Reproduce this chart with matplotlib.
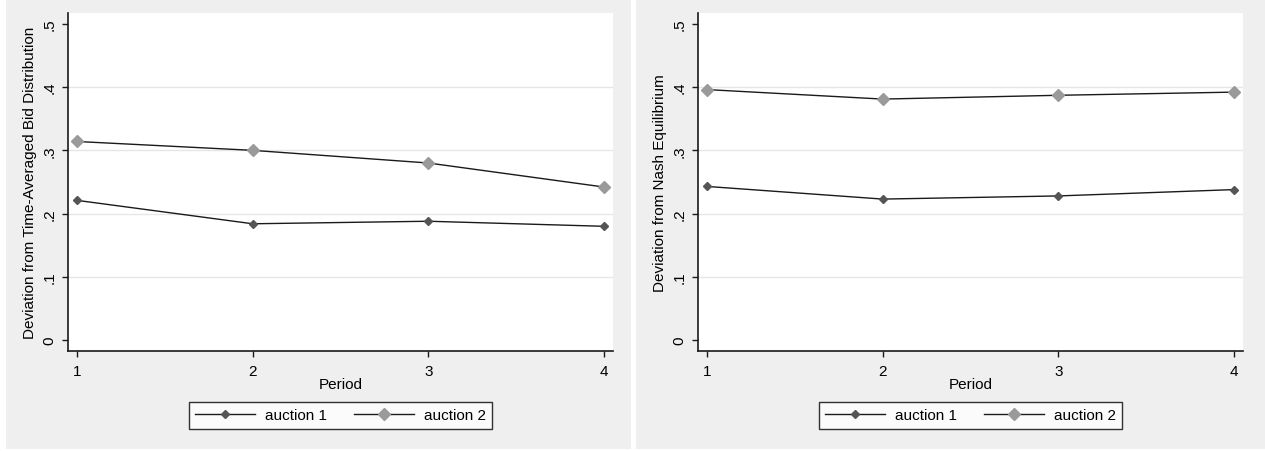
import matplotlib.pyplot as plt
from matplotlib.patches import Rectangle

plt.rcParams['font.family'] = ['Liberation Sans', 'DejaVu Sans']

# Mean deviation per period, two auction formats
periods = [1, 2, 3, 4]
yticks = [0, 0.1, 0.2, 0.3, 0.4, 0.5]
yticklabels = ['0', '.1', '.2', '.3', '.4', '.5']

tavg_auction1 = [0.221, 0.184, 0.188, 0.180]
tavg_auction2 = [0.314, 0.300, 0.280, 0.242]
nash_auction1 = [0.243, 0.223, 0.228, 0.238]
nash_auction2 = [0.396, 0.381, 0.387, 0.392]

W, H = 1265, 452
FS = 11
fig = plt.figure(figsize=(W / 100, H / 100), dpi=100)
fig.patch.set_facecolor('white')

# gray graph regions behind each panel
for x0, x1 in [(6, 631), (636, 1265)]:
    fig.patches.append(Rectangle((x0 / W, 2 / H), (x1 - x0) / W, (H - 2) / H,
                                 transform=fig.transFigure, facecolor='#efefef',
                                 edgecolor='none', zorder=-10))


def panel(left_px, ylabel, s1, s2):
    ax = fig.add_axes([left_px / W, 1 - 352 / H, 545 / W, 338 / H])
    ax.set_facecolor('white')
    ax.plot(periods, s1, color='#1a1a1a', lw=1.0, marker='D', ms=4.2,
            mfc='#555555', mec='#555555', label='auction 1', zorder=3)
    ax.plot(periods, s2, color='#1a1a1a', lw=1.0, marker='D', ms=6.6,
            mfc='#9a9a9a', mec='#9a9a9a', label='auction 2', zorder=3)
    ax.set_xlim(0.949, 4.05)
    ax.set_ylim(-0.017, 0.517)
    for g in [0.1, 0.2, 0.3, 0.4]:
        ax.axhline(g, color='#e6e6e6', lw=1.0, zorder=1)
    ax.set_xticks(periods)
    ax.set_yticks(yticks)
    ax.set_yticklabels(yticklabels, rotation=90, va='center')
    ax.tick_params(axis='both', labelsize=FS, color='#1a1a1a', length=4.5, width=1.0)
    ax.tick_params(axis='y', pad=4)
    ax.tick_params(axis='x', pad=5)
    for sp in ['top', 'right']:
        ax.spines[sp].set_visible(False)
    for sp in ['left', 'bottom']:
        ax.spines[sp].set_color('#1a1a1a')
        ax.spines[sp].set_linewidth(1.2)
    ax.set_xlabel('Period', fontsize=FS, labelpad=-1)
    ax.set_ylabel(ylabel, fontsize=FS, labelpad=4)
    leg = ax.legend(loc='center', bbox_to_anchor=((left_px + 272.5) / W, 1 - 416.5 / H),
                    bbox_transform=fig.transFigure, ncol=2, fontsize=FS,
                    frameon=True, fancybox=False, edgecolor='black',
                    handlelength=3.9, handletextpad=0.65, columnspacing=1.8,
                    borderpad=0.4, borderaxespad=0)
    leg.get_frame().set_linewidth(1.0)
    return ax


panel(68, 'Deviation from Time-Averaged Bid Distribution', tavg_auction1, tavg_auction2)
panel(698, 'Deviation from Nash Equilibrium', nash_auction1, nash_auction2)

fig.savefig('out.png', dpi=100)
